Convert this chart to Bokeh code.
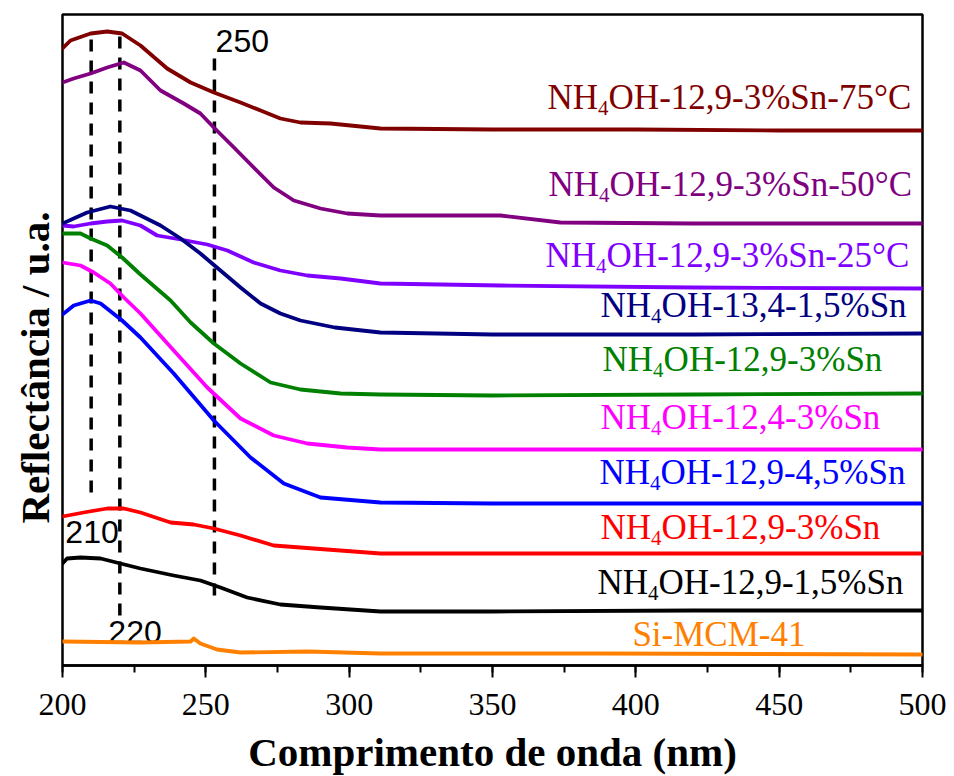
from bokeh.plotting import figure
from bokeh.models import Range1d, SingleIntervalTicker, Title
from bokeh.core.properties import value
from bokeh.embed import file_html
from bokeh.resources import INLINE

# ---------------- data ----------------
wl_75 = [200, 202.8, 209.8, 215.6, 220.8, 227.2, 236.5, 244.7, 252.8, 262.1, 269.1, 276, 283, 293.5, 310.9, 350, 400, 450, 500]
r_75 = [6.17, 6.25, 6.32, 6.34, 6.32, 6.20, 5.97, 5.83, 5.73, 5.63, 5.55, 5.47, 5.43, 5.42, 5.37, 5.36, 5.36, 5.35, 5.35]

wl_50 = [200, 203.9, 209.8, 215.6, 221.4, 227.2, 234.2, 242.3, 248.1, 252.8, 259.8, 266.7, 273.7, 280.7, 290, 299.3, 310.9, 352.8, 373.7, 420, 500]
r_50 = [5.83, 5.87, 5.92, 5.98, 6.03, 5.95, 5.75, 5.62, 5.52, 5.38, 5.18, 4.98, 4.78, 4.65, 4.57, 4.52, 4.50, 4.50, 4.43, 4.42, 4.42]

wl_25 = [200, 203.9, 209.8, 215.6, 220.8, 227.2, 233, 241.2, 250.5, 257.5, 266.7, 276, 285.4, 297, 310.9, 352.8, 420, 500]
r_25 = [4.40, 4.39, 4.42, 4.44, 4.45, 4.40, 4.30, 4.26, 4.21, 4.15, 4.03, 3.95, 3.90, 3.87, 3.82, 3.80, 3.78, 3.77]

wl_134 = [200, 203.9, 208.6, 216.7, 223.7, 227.2, 234.2, 241.2, 248.1, 255.1, 262.1, 269.1, 276, 283, 295, 310.9, 350, 420, 500]
r_134 = [4.42, 4.47, 4.53, 4.59, 4.55, 4.50, 4.40, 4.27, 4.12, 3.95, 3.78, 3.62, 3.52, 3.45, 3.38, 3.33, 3.31, 3.31, 3.32]

wl_g = [200, 206.3, 209.8, 215.6, 220.8, 227.2, 237.7, 244.7, 252.8, 262.1, 272.6, 283, 297, 310.9, 350, 420, 500]
r_g = [4.32, 4.32, 4.27, 4.20, 4.08, 3.91, 3.65, 3.43, 3.22, 3.02, 2.83, 2.76, 2.72, 2.71, 2.70, 2.71, 2.72]

wl_124 = [200, 206.3, 210.9, 216.7, 221.4, 227.2, 238.8, 250.5, 262.1, 273.7, 285.4, 299.3, 310.9, 350, 420, 500]
r_124 = [4.03, 4.00, 3.93, 3.82, 3.68, 3.52, 3.15, 2.78, 2.47, 2.30, 2.22, 2.18, 2.16, 2.16, 2.16, 2.16]

wl_45 = [200, 203.9, 209.8, 213.3, 220.8, 227.2, 238.8, 252.8, 265.6, 277.2, 290, 310.9, 350, 420, 500]
r_45 = [3.51, 3.60, 3.65, 3.62, 3.45, 3.28, 2.92, 2.45, 2.08, 1.82, 1.68, 1.63, 1.62, 1.62, 1.62]

wl_3 = [200, 207.4, 215.6, 221.4, 227.2, 237.7, 245.8, 252.8, 262.1, 273.7, 287.6, 310.9, 350, 420, 500]
r_3 = [1.49, 1.53, 1.57, 1.57, 1.53, 1.43, 1.41, 1.37, 1.30, 1.20, 1.17, 1.12, 1.12, 1.12, 1.12]

wl_15 = [200, 201.6, 206.3, 213.3, 220.2, 227.2, 238.8, 248.1, 255.1, 264.4, 276, 290, 310.9, 350, 420, 500]
r_15 = [1.02, 1.07, 1.08, 1.07, 1.02, 0.97, 0.90, 0.85, 0.78, 0.68, 0.61, 0.58, 0.54, 0.54, 0.55, 0.55]

wl_mcm = [200, 227.2, 244.7, 245.8, 248.1, 253.9, 262.1, 285.4, 310.9, 387.7, 500]
r_mcm = [0.24, 0.23, 0.24, 0.27, 0.22, 0.16, 0.13, 0.14, 0.12, 0.12, 0.11]

series_wl = [wl_75, wl_50, wl_25, wl_134, wl_g, wl_124, wl_45, wl_3, wl_15, wl_mcm]
series_r = [r_75, r_50, r_25, r_134, r_g, r_124, r_45, r_3, r_15, r_mcm]
colors = ["#800000", "#800080", "#8000FF", "#000080", "#008000",
          "#FF00FF", "#0000FF", "#FF0000", "#000000", "#FF8000"]

# series labels: "NH" + subscript "4" + rest
label_rest = ["OH-12,9-3%Sn-75°C", "OH-12,9-3%Sn-50°C", "OH-12,9-3%Sn-25°C",
              "OH-13,4-1,5%Sn", "OH-12,9-3%Sn", "OH-12,4-3%Sn",
              "OH-12,9-4,5%Sn", "OH-12,9-3%Sn", "OH-12,9-1,5%Sn"]
label_x = [369.2, 369.5, 368.5, 387.7, 388.4, 387.7, 387.3, 387.7, 386.6]
label_y = [5.68, 4.81, 4.10, 3.60, 3.06, 2.48, 1.93, 1.38, 0.83]
mcm_label = "Si-MCM-41"
mcm_x = 398.8
mcm_y = 0.31

# dashed reference lines
dash_wl = [210, 220, 253]
dash_top = [6.32, 6.32, 6.12]
dash_bottom = [1.73, 0.50, 0.70]
dash_text = ["210", "220", "250"]
dash_text_x = [201, 216, 253.4]
dash_text_y = [1.34, 0.34, 6.25]

x_ticks_interval = 50

# ---------------- figure ----------------
p = figure(frame_width=860, frame_height=651, output_backend="svg", toolbar_location=None,
           x_range=Range1d(200, 500), y_range=Range1d(0, 6.51),
           min_border_left=62, min_border_right=32, min_border_top=14,
           min_border_bottom=111)
p.grid.visible = False
p.yaxis.visible = False
p.outline_line_color = "black"
p.outline_line_width = 2.5
p.outline_line_alpha = 1.0
p.background_fill_color = "white"
p.border_fill_color = "white"

xa = p.xaxis[0]
xa.ticker = SingleIntervalTicker(interval=x_ticks_interval, num_minor_ticks=2)
xa.axis_line_width = 2.5
xa.major_tick_line_width = 2
xa.minor_tick_line_width = 2
xa.major_tick_out = 12
xa.major_tick_in = 0
xa.minor_tick_out = 7
xa.minor_tick_in = 0
xa.major_label_text_font = "Liberation Serif"
xa.major_label_text_font_size = "32px"
xa.major_label_text_color = "black"
xa.major_label_standoff = 16
xa.axis_label = "Comprimento de onda (nm)"
xa.axis_label_text_font = "Liberation Serif"
xa.axis_label_text_font_size = "41px"
xa.axis_label_text_font_style = "bold"
xa.axis_label_text_color = "black"
xa.axis_label_standoff = 11

ylab = Title(text="Reflectância / u.a.", align="left", offset=142,
             vertical_align="top",
             text_font="Liberation Serif", text_font_size="41px",
             text_font_style="bold", text_color="black", standoff=6)
p.add_layout(ylab, "left")

# dashed lines
p.segment(x0=dash_wl, y0=dash_bottom, x1=dash_wl, y1=dash_top,
          line_color="black", line_width=3.5, line_dash="12 9")
p.text(x=dash_text_x, y=dash_text_y, text=dash_text,
       text_font=value("Liberation Sans"), text_font_size="32px",
       text_color="black", text_align="left", text_baseline="alphabetic")

# curves
for wl, r, c in zip(series_wl, series_r, colors):
    p.line(wl, r, line_color=c, line_width=3.8, line_join="round", line_cap="round")

# labels
fs = 35
sub_fs = 21
w_nh = 1.444 * fs
w_4 = 0.5 * sub_fs
lab_cols = colors[:9]
p.text(x=label_x, y=label_y, text=["NH"] * len(label_x), text_color=lab_cols,
       text_font=value("Liberation Serif"), text_font_size=f"{fs}px",
       text_align="left", text_baseline="alphabetic")
p.text(x=label_x, y=label_y, text=["4"] * len(label_x), text_color=lab_cols,
       text_font=value("Liberation Serif"), text_font_size=f"{sub_fs}px",
       text_align="left", text_baseline="alphabetic", x_offset=w_nh, y_offset=10)
p.text(x=label_x, y=label_y, text=label_rest, text_color=lab_cols,
       text_font=value("Liberation Serif"), text_font_size=f"{fs}px",
       text_align="left", text_baseline="alphabetic", x_offset=w_nh + w_4)
p.text(x=[mcm_x], y=[mcm_y], text=[mcm_label], text_color=colors[9],
       text_font=value("Liberation Serif"), text_font_size=f"{fs}px",
       text_align="left", text_baseline="alphabetic")

open("out.html", "w").write(file_html(p, INLINE))
